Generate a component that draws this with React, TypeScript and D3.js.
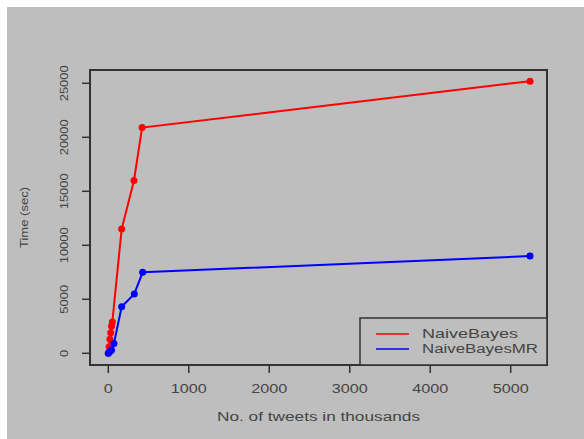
import { scaleLinear, line } from "d3";

const xTicks = [0, 1000, 2000, 3000, 4000, 5000];
const yTicks = [0, 5000, 10000, 15000, 20000, 25000];

const nbX = [0, 10, 20, 30, 40, 50, 166, 319, 420, 5240];
const nbY = [0, 600, 1300, 1900, 2500, 2900, 11500, 16000, 20900, 25200];
const mrX = [0, 10, 25, 40, 70, 166, 323, 427, 5240];
const mrY = [0, 100, 200, 300, 900, 4300, 5500, 7500, 9000];

const seriesNames = ["NaiveBayes", "NaiveBayesMR"];
const seriesColors = ["#ff0000", "#0000ff"];

const FONT = "'Liberation Sans', Arial, sans-serif";
// plot box edges in px
const B = { left: 90, right: 547, top: 70, bottom: 365 };
const TXT = "#444";

export default function App() {
  const x = scaleLinear().domain([0, 5000]).range([108.3, 510.7]);
  const y = scaleLinear().domain([0, 25000]).range([353.3, 83.3]);
  const series = [
    nbX.map((v, i) => [v, nbY[i]] as [number, number]),
    mrX.map((v, i) => [v, mrY[i]] as [number, number]),
  ];
  const path = line<[number, number]>().x(d => x(d[0])).y(d => y(d[1]));
  const lg = { x: 360, y: 318, w: B.right - 360, h: B.bottom - 318 };
  // R's stretched helvetica: width per char
  const xw = (s: string) => s.length * 9;
  const yw = (s: string) => s.length * 7.2;

  return (
    <svg width={584} height={439} style={{ position: "absolute", left: 0, top: 0 }} fontFamily={FONT}>
      <rect width={584} height={439} fill="#fff" />
      <rect x={7} y={7} width={577} height={432} fill="#bebebe" />
      <rect x={B.left} y={B.top} width={B.right - B.left} height={B.bottom - B.top} fill="none" stroke="#333" strokeWidth={2} />

      {xTicks.map(t => (
        <g key={t} transform={`translate(${x(t)},0)`}>
          <line y1={B.bottom} y2={B.bottom + 8} stroke="#333" strokeWidth={1.5} />
          <text x={-xw(String(t)) / 2} y={393} fontSize={12} fill={TXT}
            textLength={xw(String(t))} lengthAdjust="spacingAndGlyphs">{t}</text>
        </g>
      ))}
      {yTicks.map(t => (
        <g key={t} transform={`translate(0,${y(t)})`}>
          <line x1={B.left} x2={B.left - 8} stroke="#333" strokeWidth={1.5} />
          <text transform="translate(68,0) rotate(-90)" x={-yw(String(t)) / 2} fontSize={11.5} fill={TXT}
            textLength={yw(String(t))} lengthAdjust="spacingAndGlyphs">{t}</text>
        </g>
      ))}
      <text x={217} y={421} fontSize={12} fill={TXT} textLength={203} lengthAdjust="spacingAndGlyphs">No. of tweets in thousands</text>
      <text transform="translate(28,248) rotate(-90)" fontSize={11} fill={TXT} textLength={61} lengthAdjust="spacingAndGlyphs">Time (sec)</text>

      {series.map((s, i) => (
        <g key={seriesNames[i]}>
          <path d={path(s) ?? ""} fill="none" stroke={seriesColors[i]} strokeWidth={2} />
          {s.map((d, j) => (
            <circle key={j} cx={x(d[0])} cy={y(d[1])} r={3.5} fill={seriesColors[i]} />
          ))}
        </g>
      ))}

      <rect x={lg.x} y={lg.y} width={lg.w} height={lg.h} fill="#bebebe" stroke="#333" strokeWidth={1.5} />
      {seriesNames.map((n, i) => (
        <g key={n} transform={`translate(0,${334 + i * 15})`}>
          <line x1={376} x2={409} stroke={seriesColors[i]} strokeWidth={1.5} />
          <text x={422} y={4} fontSize={12} fill={TXT} textLength={i === 0 ? 96 : 116} lengthAdjust="spacingAndGlyphs">{n}</text>
        </g>
      ))}
    </svg>
  );
}
